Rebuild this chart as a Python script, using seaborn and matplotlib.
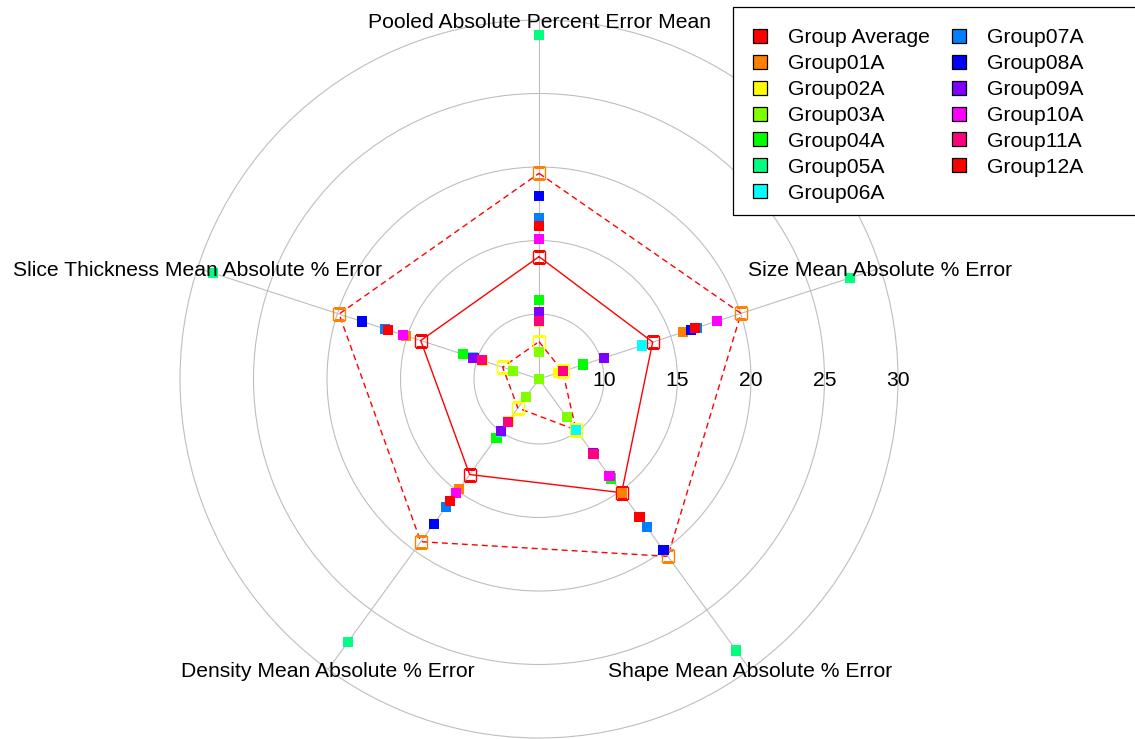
import numpy as np
import pandas as pd
import matplotlib
matplotlib.use("Agg")
import matplotlib.pyplot as plt
from matplotlib.lines import Line2D
from matplotlib.patches import Rectangle
import seaborn as sns

# ---- data -------------------------------------------------------------
axis_labels = [
    "Pooled Absolute Percent Error Mean",
    "Size Mean Absolute % Error",
    "Shape Mean Absolute % Error",
    "Density Mean Absolute % Error",
    "Slice Thickness Mean Absolute % Error",
]

group_average = [13.90, 13.71, 15.14, 13.61, 14.04]
average_plus_sd = [19.57, 20.03, 20.49, 19.26, 19.88]
average_minus_sd = [8.12, 7.27, 9.87, 8.02, 8.18]

group_names = ["Group01A", "Group02A", "Group03A", "Group04A", "Group05A", "Group06A",
               "Group07A", "Group08A", "Group09A", "Group10A", "Group11A", "Group12A"]

group01a = [16.00, 15.90, 15.14, 14.81, 15.10]
group02a = [9.45, 6.96, 11.80, 9.10, 9.60]
group03a = [7.44, 5.58, 8.78, 7.11, 7.42]
group04a = [10.95, 8.75, 13.95, 10.51, 11.00]
group05a = [29.00, 27.80, 28.40, 27.70, 28.90]
group06a = [10.10, 12.97, 9.90, 10.00, 10.30]
group07a = [16.55, 16.86, 18.05, 16.36, 16.60]
group08a = [18.03, 16.45, 19.99, 17.77, 18.22]
group09a = [10.12, 10.23, 11.85, 9.97, 10.27]
group10a = [15.08, 18.29, 13.74, 15.19, 15.33]
group11a = [9.55, 7.30, 11.88, 9.17, 9.68]
group12a = [15.99, 16.74, 17.20, 15.85, 16.36]

radial_ticks = [10, 15, 20, 25, 30]
radial_min = 5.58
radial_max = 30

average_color = "#FF0000"
group_colors = ["#FF8000", "#FFFF00", "#80FF00", "#00FF00", "#00FF80", "#00FFFF",
                "#0080FF", "#0000FF", "#8000FF", "#FF00FF", "#FF0080", "#FF0000"]

# ---- style ------------------------------------------------------------
sns.set_theme(style="white")
plt.rcParams["font.family"] = ["Liberation Sans", "DejaVu Sans"]
plt.rcParams["text.color"] = "black"
plt.rcParams["legend.labelcolor"] = "black"
grid_color = "#BEBEBE"
font_pt = 15.2

W, H = 1135, 739
fig = plt.figure(figsize=(W / 100, H / 100), dpi=100)
fig.patch.set_facecolor("white")

cx, cy, R = 539, 379, 359
ax = fig.add_axes([(cx - R) / W, (H - cy - R) / H, 2 * R / W, 2 * R / H],
                  projection="polar")
ax.set_theta_zero_location("N")
ax.set_theta_direction(-1)
ax.set_ylim(radial_min, radial_max)
ax.set_facecolor("none")
ax.spines["polar"].set_color(grid_color)
ax.spines["polar"].set_linewidth(0.8)

n_axes = len(axis_labels)
angles_deg = np.arange(n_axes) * 360.0 / n_axes
theta = np.deg2rad(angles_deg)
ax.set_thetagrids(angles_deg, labels=[""] * n_axes)
ax.set_rgrids(radial_ticks[:-1], labels=[""] * (len(radial_ticks) - 1))
ax.grid(True, color=grid_color, linewidth=0.8)

# radial scale labels along the horizontal spoke
for v in radial_ticks:
    ax.text(np.pi / 2, v, str(v), ha="center", va="center_baseline",
            fontsize=font_pt, color="black", zorder=6)

# spoke titles at the outer ring
for t, lab in zip(theta, axis_labels):
    ax.text(t, radial_max, lab, ha="center", va="center_baseline",
            fontsize=font_pt, color="black", clip_on=False, zorder=6)

# ---- average and +/- sd envelopes --------------------------------------
theta_closed = np.append(theta, theta[0])
dash = (0, (4.3, 2.9))
envelopes = [
    (group_average, "-", average_color),
    (average_plus_sd, dash, group_colors[0]),
    (average_minus_sd, dash, group_colors[1]),
]
for vals, ls, mcol in envelopes:
    closed = list(vals) + [vals[0]]
    sns.lineplot(x=theta_closed, y=closed, sort=False, estimator=None,
                 color=average_color, linewidth=1.0, linestyle=ls, ax=ax,
                 zorder=2, legend=False)
    ax.plot(theta, vals, linestyle="none", marker="s", markersize=8.6,
            markerfacecolor="none", markeredgecolor=mcol,
            markeredgewidth=1.0, zorder=3)

# ---- individual groups ------------------------------------------------
group_values = [group01a, group02a, group03a, group04a, group05a, group06a,
                group07a, group08a, group09a, group10a, group11a, group12a]
rows = []
for name, vals in zip(group_names, group_values):
    for t, v in zip(theta, vals):
        rows.append({"theta": t, "value": v, "group": name})
df = pd.DataFrame(rows)
sns.scatterplot(data=df, x="theta", y="value", hue="group",
                palette=dict(zip(group_names, group_colors)), marker="s",
                s=54, linewidth=0, legend=False, ax=ax, zorder=4)
ax.set_xlabel("")
ax.set_ylabel("")
ax.set_ylim(radial_min, radial_max)

# ---- legend -----------------------------------------------------------
legend_names = ["Group Average"] + group_names
legend_colors = [average_color] + group_colors
handles = [Line2D([], [], marker="s", linestyle="none", markersize=10.6,
                  markerfacecolor=c, markeredgecolor="black", markeredgewidth=0.9)
           for c in legend_colors]

fig.add_artist(Rectangle((733 / W, 1 - 215 / H), (1145 - 733) / W, (215 - 7) / H,
                         transform=fig.transFigure, facecolor="white",
                         edgecolor="black", linewidth=0.9, zorder=5))

common = dict(frameon=False, fontsize=font_pt, handlelength=1.0,
              handletextpad=0.87, labelspacing=0.33, borderpad=0,
              borderaxespad=0, loc="upper left", bbox_transform=fig.transFigure,
              labelcolor="black")
leg1 = fig.legend(handles[:7], legend_names[:7],
                  bbox_to_anchor=(749 / W, 1 - 28 / H), **common)
leg2 = fig.legend(handles[7:], legend_names[7:],
                  bbox_to_anchor=(948 / W, 1 - 28 / H), **common)
for lg in (leg1, leg2):
    lg.set_zorder(6)

fig.savefig("out.png", dpi=100)
